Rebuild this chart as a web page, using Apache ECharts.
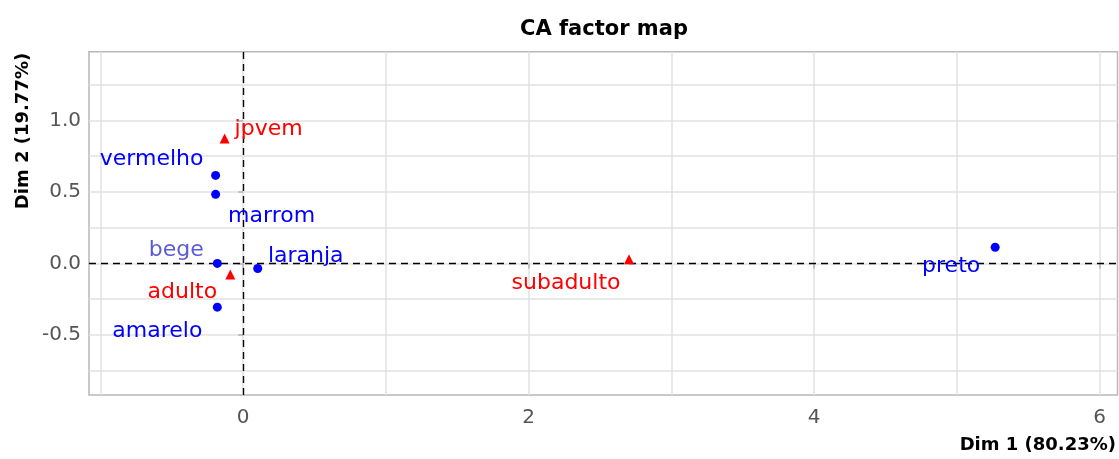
<!DOCTYPE html>
<html>
<head>
<meta charset="utf-8">
<title>CA factor map</title>
<script src="https://cdn.jsdelivr.net/npm/echarts@6/dist/echarts.min.js"></script>
<style>
  html, body { margin: 0; padding: 0; background: #fff; }
  #chart { width: 1119px; height: 459px; }
</style>
</head>
<body>
<div id="chart"></div>
<script>
// column points (cores)
var colNames = ['vermelho', 'marrom', 'bege', 'laranja', 'amarelo', 'preto'];
var colDim1 = [-0.193, -0.193, -0.181, 0.102, -0.181, 5.268];
var colDim2 = [0.615, 0.483, 0.0, -0.036, -0.306, 0.113];

// row points (idades)
var rowNames = ['jpvem', 'adulto', 'subadulto'];
var rowDim1 = [-0.130, -0.090, 2.703];
var rowDim2 = [0.874, -0.078, 0.029];

// axis breaks: labelled ticks and all grid lines (major + minor)
var xTicks = [0, 2, 4, 6];
var yTicks = [-0.5, 0.0, 0.5, 1.0];
var xGrid = [-1, 0, 1, 2, 3, 4, 5, 6];
var yGrid = [-0.75, -0.5, -0.25, 0, 0.25, 0.5, 0.75, 1.0, 1.25];

// label placement (repel-like offsets, px)
var labelOffset = {
  vermelho: [-64, -16], marrom: [56, 22], bege: [-41, -13], laranja: [48, -12],
  amarelo: [-60, 24], preto: [-44, 19],
  jpvem: [44, -9], adulto: [-48, 18], subadulto: [-63, 24]
};
var labelColor = { bege: '#5b5bd6' };

function points(names, d1, d2, color) {
  return names.map(function (n, i) {
    return {
      name: n,
      value: [d1[i], d2[i]],
      label: {
        show: true,
        position: 'inside',
        offset: labelOffset[n],
        formatter: n,
        color: labelColor[n] || color
      }
    };
  });
}

var chart = echarts.init(document.getElementById('chart'));

var option = {
  animation: false,
  title: {
    text: 'CA factor map',
    left: 515,
    top: 14,
    textStyle: { fontFamily: 'DejaVu Sans', fontWeight: 'bold', fontSize: 21, color: '#000' }
  },
  grid: {
    left: 89, right: 1.5, top: 51.7, bottom: 64,
    show: true, borderColor: '#b8b8b8', borderWidth: 1.5
  },
  xAxis: {
    type: 'value',
    min: -1.08, max: 6.125,
    axisLine: { show: false },
    axisTick: { show: true, customValues: xTicks, length: 5, lineStyle: { color: '#b3b3b3', width: 1.5 } },
    axisLabel: {
      customValues: xTicks, margin: 13,
      fontFamily: 'DejaVu Sans', fontSize: 20, color: '#555'
    },
    splitLine: { show: false }
  },
  yAxis: {
    type: 'value',
    min: -0.92, max: 1.48,
    axisLine: { show: false },
    axisTick: { show: true, customValues: yTicks, length: 5, lineStyle: { color: '#b3b3b3', width: 1.5 } },
    axisLabel: {
      customValues: yTicks, margin: 8,
      fontFamily: 'DejaVu Sans', fontSize: 20, color: '#555',
      formatter: function (v) { return v.toFixed(1); }
    },
    splitLine: { show: false }
  },
  graphic: [
    {
      type: 'text', x: 1116, y: 445,
      style: {
        text: 'Dim 1 (80.23%)', align: 'right', verticalAlign: 'middle',
        font: 'bold 18px "DejaVu Sans"', fill: '#000'
      }
    },
    {
      type: 'text', x: 23, y: 131, rotation: Math.PI / 2,
      style: {
        text: 'Dim 2 (19.77%)', align: 'center', verticalAlign: 'middle',
        font: 'bold 18px "DejaVu Sans"', fill: '#000'
      }
    }
  ],
  series: [
    {
      // panel grid lines
      name: 'grid',
      type: 'scatter',
      silent: true,
      data: [],
      z: 0,
      markLine: {
        silent: true,
        z: 0,
        symbol: 'none',
        label: { show: false },
        lineStyle: { color: '#e2e2e2', type: 'solid', width: 1.5 },
        data: xGrid.map(function (v) { return { xAxis: v }; })
          .concat(yGrid.map(function (v) { return { yAxis: v }; }))
      }
    },
    {
      // reference lines at the origin
      name: 'origin',
      type: 'scatter',
      silent: true,
      data: [],
      z: 1,
      markLine: {
        silent: true,
        z: 1,
        symbol: 'none',
        label: { show: false },
        lineStyle: { color: '#000', type: [7, 5], width: 1.4 },
        data: [{ xAxis: 0 }, { yAxis: 0 }]
      }
    },
    {
      name: 'col',
      type: 'scatter',
      symbol: 'circle',
      symbolSize: 9,
      z: 3,
      itemStyle: { color: '#0000ff', opacity: 1 },
      label: { fontFamily: 'DejaVu Sans', fontSize: 22 },
      data: points(colNames, colDim1, colDim2, '#0000ff')
    },
    {
      name: 'row',
      type: 'scatter',
      symbol: 'triangle',
      symbolSize: 10,
      z: 3,
      itemStyle: { color: '#ff0000', opacity: 1 },
      label: { fontFamily: 'DejaVu Sans', fontSize: 22 },
      data: points(rowNames, rowDim1, rowDim2, '#ff0000')
    }
  ]
};

chart.setOption(option);
</script>
</body>
</html>
